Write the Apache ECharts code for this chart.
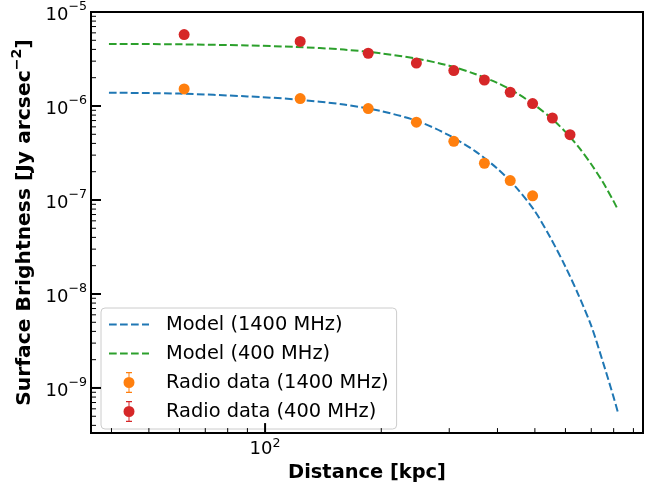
<!DOCTYPE html>
<html><head><meta charset="utf-8">
<script src="https://cdn.jsdelivr.net/npm/echarts@6/dist/echarts.min.js"></script>
<style>html,body{margin:0;padding:0;background:#fff}#c{width:660px;height:487px}</style>
</head><body><div id="c"></div>
<script>
// ---- data ----
const radioDistance = [61.7, 123.3, 185.0, 246.6, 308.3, 370.0, 431.6, 493.3, 555.0, 616.6];
const radio1400 = [1.52e-6, 1.20e-6, 9.4e-7, 6.72e-7, 4.21e-7, 2.46e-7, 1.61e-7, 1.106e-7];
const radio400 = [5.75e-6, 4.86e-6, 3.64e-6, 2.86e-6, 2.38e-6, 1.89e-6, 1.40e-6, 1.06e-6, 7.45e-7, 4.95e-7];
const modelDistance = [39.4, 60, 90, 120, 160, 200, 250, 300, 350, 400, 450, 500, 550, 600, 650, 700, 750, 800, 822];
const model1400 = [1.384e-6, 1.355e-6, 1.265e-6, 1.175e-6, 1.035e-6, 8.81e-7, 6.84e-7, 4.86e-7, 3.31e-7, 2.15e-7,
  1.32e-7, 7.59e-8, 3.89e-8, 1.95e-8, 9.55e-9, 4.57e-9, 1.90e-9, 7.94e-10, 5.37e-10];
const model400 = [4.58e-6, 4.53e-6, 4.41e-6, 4.25e-6, 3.98e-6, 3.63e-6, 3.16e-6, 2.68e-6, 2.19e-6, 1.76e-6,
  1.36e-6, 1.02e-6, 7.48e-7, 5.30e-7, 3.63e-7, 2.40e-7, 1.55e-7, 9.66e-8, 7.76e-8];
const xMajorTicks = [100];
const xMinorTicks = [40, 50, 60, 70, 80, 90, 200, 300, 400, 500, 600, 700, 800, 900];
const yMajorTicks = [1e-9, 1e-8, 1e-7, 1e-6, 1e-5];
const yMinorTicks = [4e-10, 5e-10, 6e-10, 7e-10, 8e-10, 9e-10,
  2e-9, 3e-9, 4e-9, 5e-9, 6e-9, 7e-9, 8e-9, 9e-9,
  2e-8, 3e-8, 4e-8, 5e-8, 6e-8, 7e-8, 8e-8, 9e-8,
  2e-7, 3e-7, 4e-7, 5e-7, 6e-7, 7e-7, 8e-7, 9e-7,
  2e-6, 3e-6, 4e-6, 5e-6, 6e-6, 7e-6, 8e-6, 9e-6];
const seriesNames = ['Model (1400 MHz)', 'Model (400 MHz)', 'Radio data (1400 MHz)', 'Radio data (400 MHz)'];

// ---- styling ----
const FONT = 'DejaVu Sans';
const X_MIN = 35.4, X_MAX = 953, Y_MIN = 3.31e-10, Y_MAX = 1e-5;
const C_BLUE = '#1f77b4', C_ORANGE = '#ff7f0e', C_GREEN = '#2ca02c', C_RED = '#d62728';
const DASH = [7.7, 3.3];

function powLabel(v) {
  const l = Math.log10(v);
  const e = Math.round(l);
  if (Math.abs(l - e) > 1e-6) return '';
  return '{b|10}{s|' + (e < 0 ? '\u2212' : '') + Math.abs(e) + '}';
}

function xTick(len, w) {
  return function (params, api) {
    const x = api.coord([api.value(0), Y_MIN])[0];
    const cs = params.coordSys;
    const b = cs.y + cs.height;
    return { type: 'line', shape: { x1: x, y1: b, x2: x, y2: b - len }, style: { stroke: '#000', lineWidth: w } };
  };
}
function yTick(len, w) {
  return function (params, api) {
    const y = api.coord([X_MIN, api.value(1)])[1];
    const cs = params.coordSys;
    const l = cs.x;
    return { type: 'line', shape: { x1: l, y1: y, x2: l + len, y2: y }, style: { stroke: '#000', lineWidth: w } };
  };
}

const errIcon = 'path://M5,0H6V21H5Z M2.5,0H8.5V1.2H2.5Z M2.5,19.8H8.5V21H2.5Z M0,10.5A5.5,5.5 0 1 1 11,10.5A5.5,5.5 0 1 1 0,10.5Z';
const dashIcon = 'path://M0,0H7.7V2H0Z M11,0H18.7V2H11Z M22,0H29.7V2H22Z M33,0H40V2H33Z';

const chart = echarts.init(document.getElementById('c'), null, { renderer: 'canvas' });
chart.setOption({
  animation: false,
  textStyle: { fontFamily: FONT },
  grid: { left: 91, right: 17, top: 11, bottom: 47, show: true, borderColor: '#000', borderWidth: 2, backgroundColor: 'transparent' },
  xAxis: {
    type: 'log', logBase: 10, min: X_MIN, max: X_MAX,
    axisLine: { show: false }, axisTick: { show: false }, splitLine: { show: false },
    axisLabel: {
      formatter: powLabel, margin: 4, color: '#000',
      rich: {
        b: { fontFamily: FONT, fontSize: 18, color: '#000', lineHeight: 24 },
        s: { fontFamily: FONT, fontSize: 12.6, color: '#000', lineHeight: 12, verticalAlign: 'top' }
      }
    },
    name: 'Distance [kpc]', nameLocation: 'middle', nameGap: 26,
    nameTextStyle: { fontFamily: FONT, fontSize: 19.4, fontWeight: 'bold', color: '#000' }
  },
  yAxis: {
    type: 'log', logBase: 10, min: Y_MIN, max: Y_MAX,
    axisLine: { show: false }, axisTick: { show: false }, splitLine: { show: false },
    axisLabel: {
      formatter: powLabel, margin: 4, color: '#000', padding: [6, 0, 0, 0],
      rich: {
        b: { fontFamily: FONT, fontSize: 18, color: '#000', lineHeight: 30 },
        s: { fontFamily: FONT, fontSize: 12.6, color: '#000', lineHeight: 11, verticalAlign: 'top' }
      }
    },
    name: '{t|Surface Brightness [Jy arcsec}{u|\u22122}{t|]}', nameLocation: 'middle', nameGap: 52, nameRotate: 90,
    nameTextStyle: {
      fontFamily: FONT, fontSize: 20.3, fontWeight: 'bold', color: '#000',
      rich: {
        t: { fontFamily: FONT, fontSize: 20.3, fontWeight: 'bold', color: '#000', lineHeight: 28 },
        u: { fontFamily: FONT, fontSize: 14.2, fontWeight: 'bold', color: '#000', lineHeight: 12, verticalAlign: 'top' }
      }
    }
  },
  legend: {
    orient: 'vertical', left: 101, top: 308, padding: [6, 8, 7, 8], itemGap: 8,
    itemWidth: 40, itemHeight: 21,
    backgroundColor: 'rgba(255,255,255,0.8)', borderColor: '#cccccc', borderWidth: 1, borderRadius: 4,
    textStyle: { fontFamily: FONT, fontSize: 19.4, color: '#000', lineHeight: 21, padding: [0, 0, 0, 12] },
    data: [
      { name: seriesNames[0], icon: dashIcon }, { name: seriesNames[1], icon: dashIcon },
      { name: seriesNames[2], icon: errIcon }, { name: seriesNames[3], icon: errIcon }
    ]
  },
  series: [
    { name: seriesNames[0], type: 'line', symbol: 'none', smooth: 0.3, z: 3,
      lineStyle: { color: C_BLUE, width: 2, type: DASH }, itemStyle: { color: C_BLUE },
      data: modelDistance.map((d, i) => [d, model1400[i]]) },
    { name: seriesNames[1], type: 'line', symbol: 'none', smooth: 0.3, z: 3,
      lineStyle: { color: C_GREEN, width: 2, type: DASH }, itemStyle: { color: C_GREEN },
      data: modelDistance.map((d, i) => [d, model400[i]]) },
    { name: seriesNames[2], type: 'scatter', symbol: 'circle', symbolSize: 11, z: 4,
      itemStyle: { color: C_ORANGE, opacity: 1 },
      data: radio1400.map((v, i) => [radioDistance[i], v]) },
    { name: seriesNames[3], type: 'scatter', symbol: 'circle', symbolSize: 11, z: 4,
      itemStyle: { color: C_RED, opacity: 1 },
      data: radio400.map((v, i) => [radioDistance[i], v]) },
    { type: 'custom', silent: true, z: 5, renderItem: xTick(10, 2), data: xMajorTicks.map(v => [v, Y_MIN]) },
    { type: 'custom', silent: true, z: 5, renderItem: xTick(5, 1), data: xMinorTicks.map(v => [v, Y_MIN]) },
    { type: 'custom', silent: true, z: 5, renderItem: yTick(10, 2), data: yMajorTicks.map(v => [X_MIN, v]) },
    { type: 'custom', silent: true, z: 5, renderItem: yTick(5, 1), data: yMinorTicks.map(v => [X_MIN, v]) }
  ]
});
</script></body></html>
